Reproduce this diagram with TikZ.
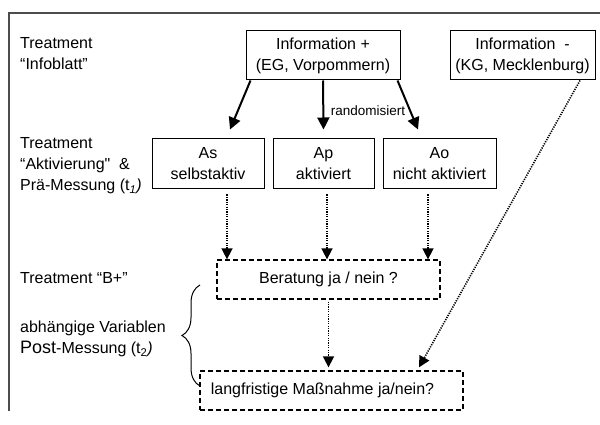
\documentclass[tikz,border=0pt]{standalone}
\usepackage{fontspec}
\setmainfont{Liberation Sans}
\usetikzlibrary{arrows.meta,decorations.pathreplacing}

\tikzset{
	box/.style={shape=rectangle,draw=black,line width=1pt,align=center,inner sep=1pt},
	dashbox/.style={box,dash pattern=on 5pt off 3pt,line width=1.3pt},
	sidetext/.style={anchor=west,align=left,inner sep=0pt},
	bigarrow/.style={line width=2pt,-{Triangle[length=12pt,width=12pt]}},
	dotarrow/.style={line width=1.6pt,dash pattern=on 1.2pt off 1.2pt,-{Triangle[length=11pt,width=11pt]}},
}

\begin{document}
\begin{tikzpicture}[x=1pt,y=-1pt,font=\fontsize{16}{21}\selectfont]
	\useasboundingbox (0,0) rectangle (600,425);
	\draw[line width=1.5pt,black!70] (9,411) -- (9,13) -- (600,13);

	\node[sidetext] (l1) at (20,54)  {Treatment\\“Infoblatt”};
	\node[sidetext] (l2) at (20,166) {Treatment\\“Aktivierung\textquotedbl\ \ \&\\Prä-Messung (t\textsubscript{\itshape 1}\textit{)}};
	\node[sidetext] (l3) at (20,278) {Treatment “B+”};
	\node[sidetext] (l4) at (20,339) {abhängige Variablen\\{\fontsize{18}{21}\selectfont Post}-Messung (t\textsubscript{2}\textit{)}};

	\node[box,minimum width=154pt,minimum height=49pt] (infoplus)  at (323,55.5)  {Information +\\(EG, Vorpommern)};
	\node[box,minimum width=145pt,minimum height=49pt] (infominus) at (522.5,55.5) {Information\ \ -\\(KG, Mecklenburg)};
	\node[box,minimum width=112pt,minimum height=50pt] (as) at (208,164)   {As\\selbstaktiv};
	\node[box,minimum width=101pt,minimum height=50pt] (ap) at (323.5,164) {Ap\\aktiviert};
	\node[box,minimum width=113pt,minimum height=50pt] (ao) at (439.5,164) {Ao\\nicht aktiviert};
	\node[dashbox,minimum width=223pt,minimum height=39pt] (ber)  at (328.5,279.5) {Beratung ja / nein ?};
	\node[dashbox,minimum width=263pt,minimum height=39pt] (lang) at (331.5,390.5) {langfristige Maßnahme ja/nein?\hspace{18pt}};
	\node[font=\fontsize{13.5}{15}\selectfont,inner sep=0pt] (rand) at (368,111) {randomisiert};

	\path[bigarrow] ([xshift=5pt]infoplus.south west) edge ([shift={(22pt,9pt)}]as.north);
	\path[bigarrow] (infoplus.south) edge ([yshift=9pt]ap.north);
	\path[bigarrow] ([xshift=-3pt]infoplus.south east) edge ([shift={(-21.5pt,9pt)}]ao.north);

	\path[dotarrow] ([shift={(19pt,-5pt)}]as.south) edge ([xshift=19pt]as.south |- ber.north);
	\path[dotarrow] ([shift={(3.5pt,-5pt)}]ap.south) edge ([xshift=3.5pt]ap.south |- ber.north);
	\path[dotarrow] ([shift={(-11.5pt,-5pt)}]ao.south) edge ([xshift=-11.5pt]ao.south |- ber.north);
	\path[dotarrow] ([yshift=-2pt]ber.south) edge ([yshift=3pt]ber.south |- lang.north);
	\path[dotarrow] ([xshift=57.5pt]infominus.south) edge ([shift={(87.5pt,3pt)}]lang.north);

	\draw[line width=1pt,decorate,decoration={brace,amplitude=18pt,aspect=0.5}] (200,386) -- (200,285);
\end{tikzpicture}
\end{document}
